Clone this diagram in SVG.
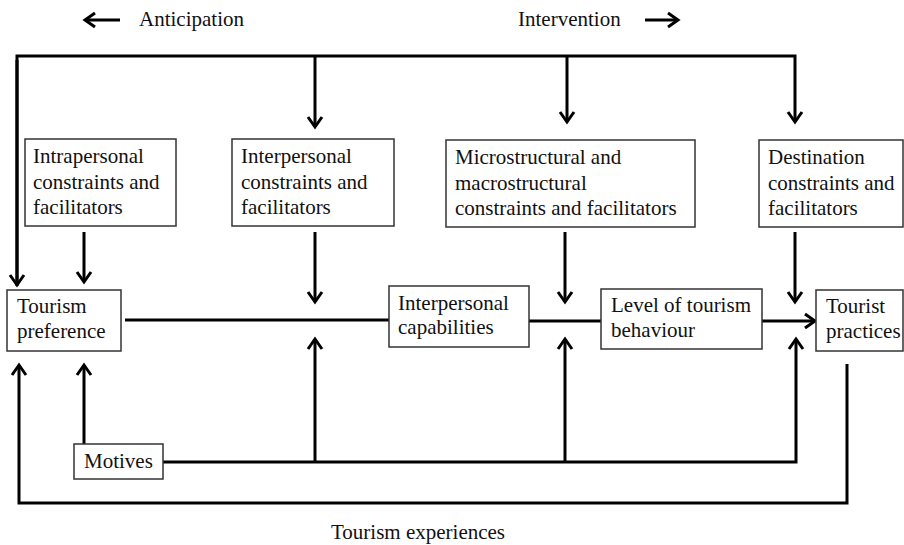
<svg xmlns="http://www.w3.org/2000/svg" width="904" height="545" viewBox="0 0 904 545">
<style>
.box{fill:#fff;stroke:#333;stroke-width:1.5}
.t{font-family:"Liberation Serif","Times New Roman",serif;font-size:21px;fill:#111}
.ln{fill:none;stroke:#000;stroke-width:3;stroke-linejoin:miter}
</style>
<defs>
<marker id="ah" markerUnits="userSpaceOnUse" markerWidth="30" markerHeight="30" viewBox="-15 -15 30 30" refX="0" refY="0" orient="auto" overflow="visible">
<path d="M-10,-7 L0,0 L-10,7" fill="none" stroke="#000" stroke-width="3"/>
</marker>
</defs>
<g id="labels">
<line class="ln" x1="120" y1="20" x2="85" y2="20" marker-end="url(#ah)"/>
<text class="t" x="139" y="26">Anticipation</text>
<text class="t" x="518" y="26">Intervention</text>
<line class="ln" x1="645" y1="20" x2="678" y2="20" marker-end="url(#ah)"/>
<text class="t" x="418" y="539" text-anchor="middle">Tourism experiences</text>
</g>
<g id="connectors">
<polyline class="ln" points="17,286 17,56 795,56 795,122" marker-end="url(#ah)"/>
<line class="ln" x1="315" y1="56" x2="315" y2="127" marker-end="url(#ah)"/>
<line class="ln" x1="567" y1="56" x2="567" y2="122" marker-end="url(#ah)"/>
<line class="ln" x1="17" y1="60" x2="17" y2="285" marker-end="url(#ah)"/>
<line class="ln" x1="84" y1="232" x2="84" y2="282" marker-end="url(#ah)"/>
<line class="ln" x1="315" y1="232" x2="315" y2="302" marker-end="url(#ah)"/>
<line class="ln" x1="565" y1="232" x2="565" y2="302" marker-end="url(#ah)"/>
<line class="ln" x1="795" y1="232" x2="795" y2="302" marker-end="url(#ah)"/>
<line class="ln" x1="125" y1="320" x2="389" y2="320"/>
<line class="ln" x1="529" y1="321" x2="601" y2="321"/>
<line class="ln" x1="762" y1="321" x2="815" y2="321" marker-end="url(#ah)"/>
<polyline class="ln" points="163,462 796,462 796,339" marker-end="url(#ah)"/>
<line class="ln" x1="315" y1="462" x2="315" y2="339" marker-end="url(#ah)"/>
<line class="ln" x1="565" y1="462" x2="565" y2="339" marker-end="url(#ah)"/>
<line class="ln" x1="84" y1="444" x2="84" y2="365" marker-end="url(#ah)"/>
<polyline class="ln" points="847,364 847,503 19,503 19,365" marker-end="url(#ah)"/>
</g>
<g id="intrapersonal">
<rect class="box" x="25" y="139" width="151" height="87"/>
<text class="t" x="33" y="163">Intrapersonal</text>
<text class="t" x="33" y="189">constraints and</text>
<text class="t" x="33" y="214">facilitators</text>
</g>
<g id="interpersonal">
<rect class="box" x="232" y="139" width="162" height="87"/>
<text class="t" x="241" y="163">Interpersonal</text>
<text class="t" x="241" y="189">constraints and</text>
<text class="t" x="241" y="214">facilitators</text>
</g>
<g id="structural">
<rect class="box" x="446" y="140" width="249" height="87"/>
<text class="t" x="455" y="164">Microstructural and</text>
<text class="t" x="455" y="190">macrostructural</text>
<text class="t" x="455" y="215">constraints and facilitators</text>
</g>
<g id="destination">
<rect class="box" x="759" y="140" width="144" height="87"/>
<text class="t" x="768" y="164">Destination</text>
<text class="t" x="768" y="190">constraints and</text>
<text class="t" x="768" y="215">facilitators</text>
</g>
<g id="preference">
<rect class="box" x="7" y="290" width="114" height="61"/>
<text class="t" x="17" y="313">Tourism</text>
<text class="t" x="17" y="338">preference</text>
</g>
<g id="capabilities">
<rect class="box" x="389" y="286" width="140" height="61"/>
<text class="t" x="398" y="310">Interpersonal</text>
<text class="t" x="398" y="334">capabilities</text>
</g>
<g id="level">
<rect class="box" x="601" y="289" width="161" height="60"/>
<text class="t" x="611" y="312">Level of tourism</text>
<text class="t" x="611" y="337">behaviour</text>
</g>
<g id="practices">
<rect class="box" x="816" y="290" width="87" height="61"/>
<text class="t" x="826" y="313">Tourist</text>
<text class="t" x="826" y="338">practices</text>
</g>
<g id="motives">
<rect class="box" x="74" y="444" width="89" height="35"/>
<text class="t" x="84" y="468">Motives</text>
</g>
</svg>
